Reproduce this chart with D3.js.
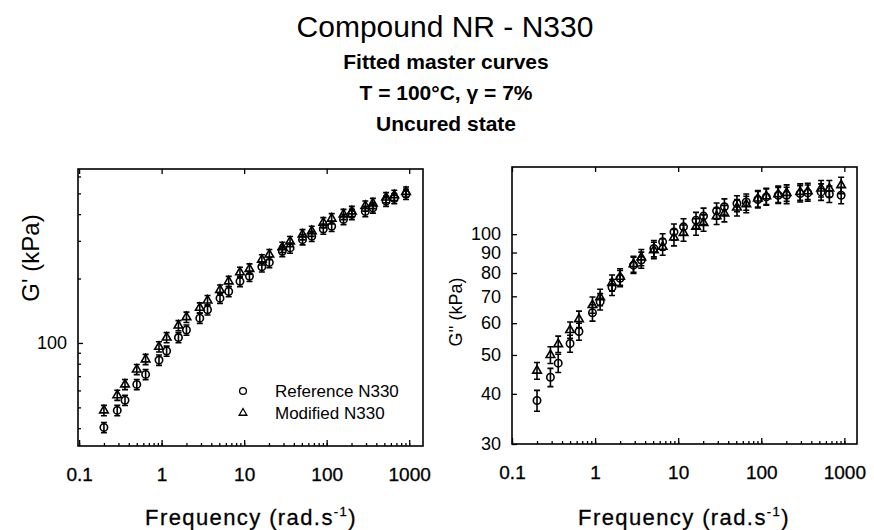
<!DOCTYPE html>
<html>

<head>
  <title>Compound NR - N330</title>
  <script src="https://cdn.jsdelivr.net/npm/d3@7"></script>
  <style>
    body { margin: 0; background: #fff; }
    text { font-family: "Liberation Sans", Arial, sans-serif; fill: #000; }
  </style>
</head>

<body>
  <svg width="874" height="530" id="mainsvg"></svg>
  <script>
    // frequencies (rad/s) of the shifted master-curve points
    const freq = [0.2, 0.29, 0.36, 0.5, 0.64, 0.93, 1.15, 1.6, 2.0, 2.9, 3.6, 5.1, 6.5, 8.9, 11.6,
      16.4, 20.2, 29, 36, 51, 66, 91, 115, 160, 202, 294, 363, 525, 660, 915];

    // G' (kPa)
    const gpRef = [40.3, 48.4, 54, 64, 71.3, 83.2, 91.7, 106, 115, 130.6, 143, 162, 174, 194, 205,
      227, 238, 268, 278, 304, 315, 341, 351, 378, 399, 412, 428, 460, 473, 495];
    const gpRefErr = [2.2, 2.7, 3, 3.5, 3.9, 4.6, 5, 5.8, 6.3, 7.2, 7.9, 8.9, 9.6, 10.7, 11.3,
      12.5, 13.1, 14.7, 15.3, 16.7, 17.3, 18.8, 19.3, 20.8, 21.9, 22.7, 23.5, 25.3, 26, 27.2];
    const gpMod = [48.4, 57, 64, 75.2, 83.8, 96, 106, 120.6, 132, 146, 158, 177, 194, 214, 222,
      245, 259, 280, 298, 321, 333, 365, 381, 399, 412, 437, 449, 478, 490, 508];
    const gpModErr = [2.7, 3.1, 3.5, 4.1, 4.6, 5.3, 5.8, 6.6, 7.3, 8, 8.7, 9.7, 10.7, 11.8, 12.2,
      13.5, 14.2, 15.4, 16.4, 17.7, 18.3, 20, 21, 21.9, 22.7, 24, 24.7, 26.3, 27, 27.9];

    // G'' (kPa)
    const gppRef = [38.5, 44, 47.7, 53.4, 57.2, 63.7, 67.9, 73.7, 77.6, 83.7, 86.2, 92.1, 95.7, 101.3, 104.3,
      108.3, 110.9, 114.3, 117, 119.2, 120.3, 122, 123.8, 125, 125, 126.2, 126.7, 127.4, 125.8, 125];
    const gppRefErr = [2.3, 2.3, 2.5, 2.6, 2.8, 3, 3.2, 3.4, 3.6, 3.9, 4, 4.3, 4.5, 4.7, 4.9,
      5, 5.2, 5.3, 5.4, 5.5, 5.6, 5.7, 5.8, 5.8, 5.9, 5.9, 5.9, 6, 5.9, 5.9];
    const gppMod = [45.7, 50, 53.2, 57.7, 61.4, 66.6, 69.6, 75.6, 78.3, 84.2, 87.5, 91.2, 93, 98.1, 100.7,
      104.3, 106.7, 110.9, 112.6, 116.5, 118.7, 122.7, 124.3, 125.8, 126.7, 127.4, 127.9, 129.9, 129.9, 132.4];
    const gppModErr = [2.2, 2.4, 2.5, 2.7, 2.9, 3.1, 3.3, 3.5, 3.7, 3.9, 4.1, 4.3, 4.4, 4.6, 4.7,
      4.9, 5, 5.2, 5.3, 5.5, 5.6, 5.8, 5.8, 5.9, 6, 6, 6, 6.1, 6.1, 6.2];

    const xTicks = [0.1, 1, 10, 100, 1000];
    const gpTicks = [100];
    const gppTicks = [30, 40, 50, 60, 70, 80, 90, 100];
    const seriesNames = ['Reference N330', 'Modified N330'];
    const titleLines = ['Fitted master curves', 'T = 100°C, γ = 7%', 'Uncured state'];

    const svg = d3.select('#mainsvg');

    // titles
    svg.append('text').attr('x', 445).attr('y', 37).attr('text-anchor', 'middle')
      .style('font-size', '30px').text('Compound NR - N330');
    svg.selectAll('.subtitle').data(titleLines).join('text')
      .attr('class', 'subtitle')
      .attr('x', 446).attr('y', (d, i) => 69 + i * 31)
      .attr('text-anchor', 'middle')
      .style('font-size', '21px').style('font-weight', 'bold')
      .text(d => d);

    // log minor ticks between min and max
    const minors = (lo, hi) => {
      const out = [];
      for (let p = Math.floor(Math.log10(lo)); p <= Math.ceil(Math.log10(hi)); p++)
        for (let k = 1; k < 10; k++) {
          const v = k * Math.pow(10, p);
          if (v >= lo && v <= hi) out.push(v);
        }
      return out;
    };

    const panel = function (o) {
      const g = svg.append('g');
      const x = d3.scaleLog().domain(o.xDomain).range([o.left, o.right]);
      const y = d3.scaleLog().domain(o.yDomain).range([o.bottom, o.top]);

      // bottom axis: minor ticks then labelled majors
      g.append('g').attr('transform', `translate(0,${o.bottom})`)
        .call(d3.axisBottom(x).tickValues(minors(o.xDomain[0], o.xDomain[1])).tickSize(-3).tickFormat(''));
      g.append('g').attr('transform', `translate(0,${o.bottom})`)
        .call(d3.axisBottom(x).tickValues(xTicks).tickSize(-6).tickPadding(22).tickFormat(d3.format('')))
        .selectAll('text').style('font-size', '19px').attr('font-family', null)
        .attr('stroke', '#000').attr('stroke-width', 0.3);
      // top axis majors only
      g.append('g').attr('transform', `translate(0,${o.top})`)
        .call(d3.axisTop(x).tickValues(xTicks).tickSize(-5).tickFormat(''));
      // left axis
      if (o.yMinor)
        g.append('g').attr('transform', `translate(${o.left},0)`)
          .call(d3.axisLeft(y).tickValues(o.yMinor).tickSize(-3).tickFormat(''));
      g.append('g').attr('transform', `translate(${o.left},0)`)
        .call(d3.axisLeft(y).tickValues(o.yTicks).tickSize(-5).tickPadding(11).tickFormat(d3.format('')))
        .selectAll('text').style('font-size', '18px').attr('font-family', null);
      g.selectAll('.domain').remove();
      g.selectAll('.tick line').attr('stroke', '#000').attr('stroke-width', 1.3);

      g.append('rect')
        .attr('x', o.left).attr('y', o.top)
        .attr('width', o.right - o.left).attr('height', o.bottom - o.top)
        .attr('fill', 'none').attr('stroke', '#000').attr('stroke-width', 1.6);

      // axis titles
      const xt = g.append('text').attr('x', o.xLabelX).attr('y', 525)
        .attr('text-anchor', 'middle').style('font-size', '22px').style('letter-spacing', '1.4px')
        .attr('stroke', '#000').attr('stroke-width', 0.3);
      xt.append('tspan').text('Frequency (rad.s');
      xt.append('tspan').attr('dy', -9).style('font-size', '13px').text('-1');
      xt.append('tspan').attr('dy', 9).text(')');

      g.append('text')
        .attr('transform', `translate(${o.yLabelX},${o.yLabelY}) rotate(-90)`)
        .attr('text-anchor', 'middle').style('font-size', o.yLabelSize)
        .text(o.yLabel);

      // series
      const tri = d3.symbol(d3.symbolTriangle, 32);
      o.series.forEach((s, si) => {
        const pts = freq.map((f, i) => ({ f, v: s.vals[i], e: s.err[i] }));
        const eb = g.append('g').attr('stroke', '#000').attr('stroke-width', 1.6).attr('fill', 'none');
        eb.selectAll('.bar').data(pts).join('path').attr('class', 'bar')
          .attr('d', d => {
            const cx = x(d.f), y0 = y(d.v - d.e), y1 = y(d.v + d.e);
            return `M${cx},${y0}V${y1}M${cx - 3},${y0}H${cx + 3}M${cx - 3},${y1}H${cx + 3}`;
          });
        const mk = g.append('g').attr('stroke', '#000').attr('stroke-width', 1.6).attr('fill', 'none');
        if (si === 0)
          mk.selectAll('circle').data(pts).join('circle')
            .attr('cx', d => x(d.f)).attr('cy', d => y(d.v)).attr('r', 3.7);
        else
          mk.selectAll('path').data(pts).join('path')
            .attr('transform', d => `translate(${x(d.f)},${y(d.v)})`).attr('d', tri);
      });

      return { g, x, y };
    };

    const left = panel({
      left: 78, right: 423, top: 169, bottom: 446,
      xDomain: [0.097, 1470], yDomain: [33, 650],
      yTicks: gpTicks, yMinor: minors(33, 650).filter(v => v !== 100),
      yLabel: "G' (kPa)", yLabelX: 39, yLabelY: 258, yLabelSize: '24px',
      xLabelX: 251,
      series: [{ vals: gpRef, err: gpRefErr }, { vals: gpMod, err: gpModErr }]
    });

    panel({
      left: 512, right: 857, top: 167, bottom: 444,
      xDomain: [0.1, 1420], yDomain: [30, 147],
      yTicks: gppTicks, yMinor: null,
      yLabel: "G'' (kPa)", yLabelX: 462, yLabelY: 312, yLabelSize: '18px',
      xLabelX: 684,
      series: [{ vals: gppRef, err: gppRefErr }, { vals: gppMod, err: gppModErr }]
    });

    // legend in left panel
    const lg = left.g.append('g');
    lg.append('circle').attr('cx', 243).attr('cy', 391).attr('r', 3.4)
      .attr('fill', 'none').attr('stroke', '#000').attr('stroke-width', 1.3);
    lg.append('path').attr('transform', 'translate(243,413)')
      .attr('d', d3.symbol(d3.symbolTriangle, 26)())
      .attr('fill', 'none').attr('stroke', '#000').attr('stroke-width', 1.3);
    lg.selectAll('text').data(seriesNames).join('text')
      .attr('x', 275).attr('y', (d, i) => 397 + i * 22)
      .style('font-size', '17px')
      .text(d => d);
  </script>
</body>

</html>
